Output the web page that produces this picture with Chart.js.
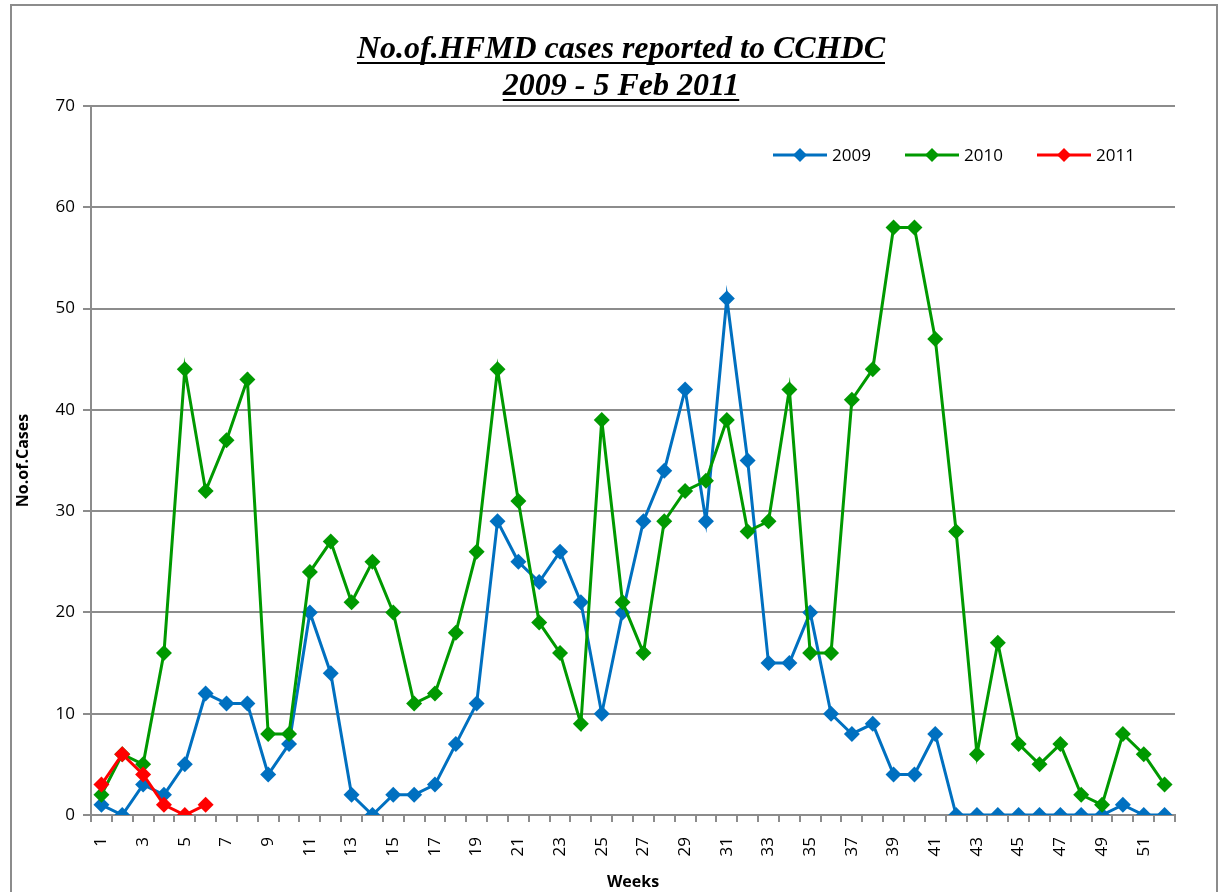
<!DOCTYPE html>
<html>
<head>
<meta charset="utf-8">
<script src="https://cdn.jsdelivr.net/npm/chart.js@4"></script>
<style>
  html, body { margin: 0; padding: 0; background: #fff; }
  #wrap { position: relative; width: 1221px; height: 892px; }
  #frame { position: absolute; left: 10px; top: 4px; width: 1208px; height: 900px; border: 2px solid #8c8c8c; box-sizing: border-box; }
  canvas { position: absolute; left: 0; top: 0; }
</style>
</head>
<body>
<div id="wrap">
  <div id="frame"></div>
  <canvas id="hfmdChart" width="1221" height="892"></canvas>
</div>
<script>
const weeks = Array.from({ length: 52 }, (_, i) => String(i + 1));

const cases2009 = [1, 0, 3, 2, 5, 12, 11, 11, 4, 7, 20, 14, 2, 0, 2, 2, 3, 7, 11, 29,
  25, 23, 26, 21, 10, 20, 29, 34, 42, 29, 51, 35, 15, 15, 20, 10, 8, 9, 4, 4,
  8, 0, 0, 0, 0, 0, 0, 0, 0, 1, 0, 0];
const cases2010 = [2, 6, 5, 16, 44, 32, 37, 43, 8, 8, 24, 27, 21, 25, 20, 11, 12, 18, 26, 44,
  31, 19, 16, 9, 39, 21, 16, 29, 32, 33, 39, 28, 29, 42, 16, 16, 41, 44, 58, 58,
  47, 28, 6, 17, 7, 5, 7, 2, 1, 8, 6, 3];
const cases2011 = [3, 6, 4, 1, 0, 1];

const titleLines = ['No.of.HFMD cases reported to CCHDC', '2009 - 5 Feb 2011'];

const BLUE = '#0070c0';
const GREEN = '#009900';
const RED = '#ff0000';
const GRID = '#8c8c8c';
const SANS = "'Open Sans', 'Noto Sans', sans-serif";

// underlined italic title, drawn by hand
const titlePlugin = {
  id: 'underlinedTitle',
  afterDraw(chart) {
    const ctx = chart.ctx;
    ctx.save();
    ctx.font = "italic bold 32px 'Liberation Serif', 'DejaVu Serif', serif";
    ctx.fillStyle = '#000';
    ctx.textAlign = 'center';
    ctx.textBaseline = 'alphabetic';
    const cx = 621;
    const baselines = [58, 95];
    titleLines.forEach((t, i) => {
      ctx.fillText(t, cx, baselines[i]);
      const w = ctx.measureText(t).width;
      ctx.fillRect(cx - w / 2, baselines[i] + 4, w, 2);
    });
    ctx.restore();
  }
};

// legend sits inside the plot, top right
const insideLegend = {
  id: 'insideLegend',
  afterDraw(chart) {
    const ctx = chart.ctx;
    const y = 155;
    const items = [
      { x: 773, label: '2009', color: BLUE },
      { x: 905, label: '2010', color: GREEN },
      { x: 1037, label: '2011', color: RED }
    ];
    ctx.save();
    ctx.font = '17px ' + SANS;
    ctx.textBaseline = 'middle';
    ctx.textAlign = 'left';
    items.forEach(it => {
      ctx.strokeStyle = it.color;
      ctx.lineWidth = 3;
      ctx.beginPath();
      ctx.moveTo(it.x, y);
      ctx.lineTo(it.x + 54, y);
      ctx.stroke();
      ctx.fillStyle = it.color;
      ctx.beginPath();
      ctx.moveTo(it.x + 27, y - 7);
      ctx.lineTo(it.x + 34, y);
      ctx.lineTo(it.x + 27, y + 7);
      ctx.lineTo(it.x + 20, y);
      ctx.closePath();
      ctx.fill();
      ctx.fillStyle = '#000';
      ctx.fillText(it.label, it.x + 59, y + 1);
    });
    ctx.restore();
  }
};

function series(label, data, color, order) {
  return {
    label: label,
    data: data,
    borderColor: color,
    backgroundColor: color,
    borderWidth: 3,
    pointStyle: 'rectRot',
    pointRadius: 8,
    pointHoverRadius: 9,
    pointBorderWidth: 0,
    tension: 0,
    order: order
  };
}

new Chart(document.getElementById('hfmdChart').getContext('2d'), {
  type: 'line',
  data: {
    labels: weeks,
    datasets: [
      series('2009', cases2009, BLUE, 2),
      series('2010', cases2010, GREEN, 1),
      series('2011', cases2011, RED, 0)
    ]
  },
  options: {
    responsive: false,
    animation: false,
    layout: {
      padding: { left: 14, right: 46, top: 106, bottom: 0 }
    },
    plugins: {
      legend: { display: false },
      title: { display: false },
      tooltip: { enabled: true }
    },
    scales: {
      x: {
        offset: true,
        grid: {
          offset: true,
          drawOnChartArea: false,
          drawTicks: true,
          tickLength: 7,
          color: GRID,
          lineWidth: 2
        },
        border: { color: GRID, width: 2 },
        ticks: {
          autoSkip: false,
          minRotation: 90,
          maxRotation: 90,
          padding: 15,
          color: '#000',
          font: { family: SANS, size: 17 },
          callback: function (value, index) {
            return index % 2 === 0 ? this.getLabelForValue(value) : '';
          }
        },
        title: {
          display: true,
          text: 'Weeks',
          color: '#000',
          font: { family: SANS, size: 16, weight: 'bold' },
          padding: { top: 0, bottom: 0 }
        },
        afterFit(scale) { scale.height = 77; }
      },
      y: {
        min: 0,
        max: 70,
        ticks: {
          stepSize: 10,
          padding: 8,
          color: '#000',
          font: { family: SANS, size: 17 }
        },
        grid: {
          color: GRID,
          lineWidth: 2,
          tickLength: 8,
          drawTicks: true
        },
        border: { color: GRID, width: 2 },
        title: {
          display: true,
          text: 'No.of.Cases',
          color: '#000',
          font: { family: SANS, size: 16, weight: 'bold' },
          padding: { top: 0, bottom: 6 }
        },
        afterFit(scale) { scale.width = 77; }
      }
    }
  },
  plugins: [titlePlugin, insideLegend]
});
</script>
</body>
</html>
